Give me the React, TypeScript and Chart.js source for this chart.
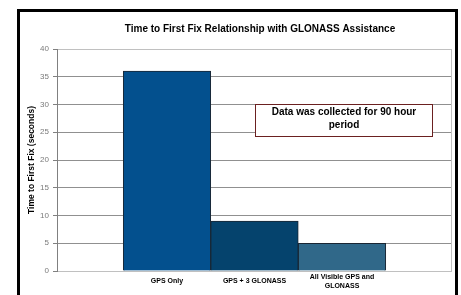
import React, { useEffect, useRef } from "react";
import { Chart, registerables } from "chart.js";

Chart.register(...registerables);

const chartTitle = "Time to First Fix Relationship with GLONASS Assistance";
const yAxisTitle = "Time to First Fix (seconds)";
const categories: (string | string[])[] = ["GPS Only", "GPS + 3 GLONASS", ["All Visible GPS and", "GLONASS"]];
const ttffSeconds = [36, 9, 5];
const barColors = ["#03508E", "#05436D", "#306889"];
const yTicksMin = 0;
const yTicksMax = 40;
const yTicksStep = 5;
const noteLines = ["Data was collected for 90 hour", "period"];

const FONT = "'Liberation Sans', Arial, sans-serif";

const decorPlugin = {
  id: "decor",
  beforeDraw(chart: any) {
    const ctx = chart.ctx;
    ctx.save();
    ctx.fillStyle = "#ffffff";
    ctx.fillRect(0, 0, chart.width, chart.height);
    ctx.fillStyle = "#000000";
    ctx.fillRect(17, 9, 3, 300);
    ctx.fillRect(17, 9, 441, 3);
    ctx.fillRect(455, 9, 3, 300);
    ctx.font = `bold 10px ${FONT}`;
    ctx.textAlign = "center";
    ctx.textBaseline = "middle";
    ctx.fillText(chartTitle, 260, 29.5);
    ctx.restore();
  },
  afterDatasetsDraw(chart: any) {
    const ctx = chart.ctx;
    const a = chart.chartArea;
    ctx.save();
    // plot area right border
    ctx.strokeStyle = "#c0c0c0";
    ctx.lineWidth = 1;
    ctx.beginPath();
    ctx.moveTo(Math.round(a.right) - 0.5, a.top);
    ctx.lineTo(Math.round(a.right) - 0.5, a.bottom);
    ctx.stroke();
    // annotation box
    const bx = 255.5, by = 104.5, bw = 177, bh = 32;
    ctx.fillStyle = "#ffffff";
    ctx.fillRect(bx, by, bw, bh);
    ctx.strokeStyle = "#6b2020";
    ctx.strokeRect(bx, by, bw, bh);
    ctx.fillStyle = "#000000";
    ctx.font = `bold 10px ${FONT}`;
    ctx.textAlign = "center";
    ctx.textBaseline = "middle";
    ctx.fillText(noteLines[0], bx + bw / 2, 112);
    ctx.fillText(noteLines[1], bx + bw / 2, 125);
    ctx.restore();
  },
};

export default function App() {
  const ref = useRef<HTMLCanvasElement | null>(null);
  useEffect(() => {
    if (!ref.current) return;
    const n = categories.length;
    const chart = new Chart(ref.current, {
      type: "bar",
      data: {
        datasets: [
          {
            data: ttffSeconds.map((v, i) => ({ x: i, y: v })),
            backgroundColor: barColors,
            borderColor: "#1a2633",
            borderWidth: 1,
            barPercentage: 1,
            categoryPercentage: 1,
          },
        ],
      },
      options: {
        responsive: false,
        animation: false,
        devicePixelRatio: 1,
        layout: { padding: { left: 0, right: 9, top: 49, bottom: 0 } },
        plugins: { legend: { display: false }, tooltip: { enabled: false }, title: { display: false } },
        scales: {
          x: {
            type: "linear",
            offset: false,
            min: -1.257,
            max: n - 1 + 1.257,
            grid: { display: false, drawTicks: false, offset: false },
            border: { display: false },
            afterBuildTicks: (scale: any) => {
              scale.ticks = categories.map((_, i) => ({ value: i }));
            },
            afterFit: (scale: any) => {
              scale.height = 24;
            },
            ticks: {
              autoSkip: false,
              maxRotation: 0,
              padding: 6,
              crossAlign: "center",
              color: "#000000",
              font: { family: FONT, size: 7, weight: "bold", lineHeight: 1.3 },
              callback: (v: any) => categories[v as number] as any,
            },
          },
          y: {
            min: yTicksMin,
            max: yTicksMax,
            afterFit: (scale: any) => {
              scale.width = 57;
            },
            ticks: {
              stepSize: yTicksStep,
              padding: 4,
              color: "#7a7a7a",
              font: { family: FONT, size: 8 },
            },
            grid: {
              color: (c: any) =>
                c.tick && (c.tick.value === yTicksMin || c.tick.value === yTicksMax) ? "#c0c0c0" : "#909090",
              tickLength: 4,
              tickColor: "#808080",
            },
            border: { display: true, color: "#808080" },
            title: {
              display: true,
              text: yAxisTitle,
              color: "#000000",
              font: { family: FONT, size: 8.5, weight: "bold" },
              padding: { top: 27, bottom: 0 },
            },
          },
        },
      },
      plugins: [decorPlugin],
    } as any);
    return () => chart.destroy();
  }, []);
  return (
    <div style={{ position: "fixed", left: 0, top: 0, width: 461, height: 295 }}>
      <canvas ref={ref} width={461} height={295} style={{ display: "block" }} />
    </div>
  );
}
